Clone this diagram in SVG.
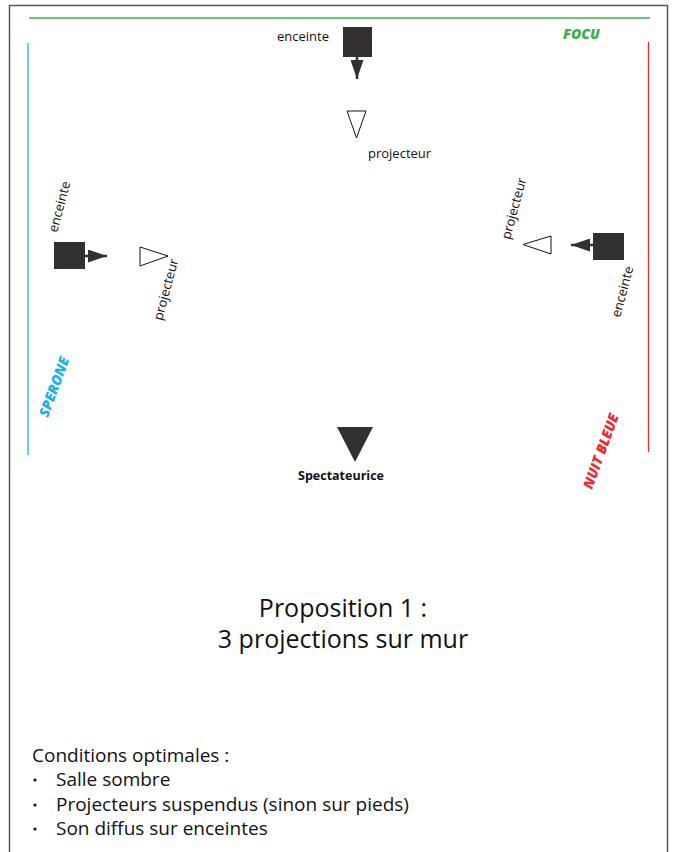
<svg xmlns="http://www.w3.org/2000/svg" width="675" height="852" viewBox="0 0 675 852">
  <style>
    .lbl { font-family: "Open Sans", "Noto Sans", sans-serif; font-size: 13px; fill: #111; }
    .brand { font-family: "Open Sans", "Noto Sans", sans-serif; font-size: 14px; font-weight: 800; font-style: italic; }
    .spk { fill: #333031; }
    .proj { fill: #fff; stroke: #111; stroke-width: 1; }
    .body { font-family: "Open Sans", "Noto Sans", sans-serif; font-size: 19px; fill: #111; }
    .title { font-family: "Open Sans", "Noto Sans", sans-serif; font-size: 25px; fill: #111; text-anchor: middle; }
  </style>
  <defs>
    <marker id="head" viewBox="0 0 19 13" refX="19" refY="6.5" markerWidth="19" markerHeight="13" markerUnits="userSpaceOnUse" orient="auto">
      <path d="M0,0 L19,6.5 L0,13 Z" fill="#333031"/>
    </marker>
  </defs>

  <rect width="675" height="852" fill="#fff"/>
  <!-- page frame -->
  <path d="M9.5,860 V5.5 H667.5 V860" fill="none" stroke="#555" stroke-width="1.5"/>

  <!-- walls -->
  <g id="walls">
    <line x1="29" y1="18" x2="650" y2="18" stroke="#3cb043" stroke-width="1.3"/>
    <line x1="28" y1="43" x2="28" y2="455" stroke="#1ab0ee" stroke-width="1.3"/>
    <line x1="648.5" y1="42" x2="648.5" y2="452" stroke="#ee2a35" stroke-width="1.3"/>
    <text class="brand" x="563" y="39" fill="#3cb043">FOCU</text>
    <text class="brand" transform="translate(48,418) rotate(-70)" fill="#1ab0ee">SPERONE</text>
    <text class="brand" transform="translate(592,490) rotate(-70)" fill="#ee2a35">NUIT BLEUE</text>
  </g>

  <!-- top speaker + projector -->
  <g id="speaker-top">
    <rect class="spk" x="343" y="27" width="29" height="30"/>
    <text class="lbl" x="277" y="41">enceinte</text>
  </g>
  <g id="projector-top">
    <polygon class="proj" points="347,111 366,111 356.5,138"/>
    <text class="lbl" x="368" y="158">projecteur</text>
  </g>

  <!-- left speaker + projector -->
  <g id="speaker-left">
    <rect class="spk" x="54" y="242" width="31" height="27"/>
    <text class="lbl" transform="translate(57,233) rotate(-75)">enceinte</text>
  </g>
  <g id="projector-left">
    <polygon class="proj" points="140,247 140,266 168,256"/>
    <text class="lbl" transform="translate(162,321) rotate(-75)">projecteur</text>
  </g>

  <!-- right speaker + projector -->
  <g id="speaker-right">
    <rect class="spk" x="593" y="233" width="31" height="27"/>
    <text class="lbl" transform="translate(620,318) rotate(-75)">enceinte</text>
  </g>
  <g id="projector-right">
    <polygon class="proj" points="523,244.5 551,236 551,254"/>
    <text class="lbl" transform="translate(510,240) rotate(-75)">projecteur</text>
  </g>

  <!-- audience -->
  <g id="spectateurice">
    <polygon fill="#333031" points="337,427 373,427 355,462"/>
    <text x="341" y="480" text-anchor="middle" font-family="'Open Sans', 'Noto Sans', sans-serif" font-size="12.5" font-weight="700" fill="#111">Spectateurice</text>
  </g>

  <!-- sound direction arrows -->
  <g id="connectors" stroke="#333031" stroke-width="2.5" fill="none">
    <line x1="357" y1="56" x2="357" y2="79" marker-end="url(#head)"/>
    <line x1="84" y1="256" x2="107" y2="256" marker-end="url(#head)"/>
    <line x1="594" y1="245" x2="571" y2="245" marker-end="url(#head)"/>
  </g>

  <!-- caption -->
  <g id="caption">
    <text class="title" x="343" y="617">Proposition 1 :</text>
    <text class="title" x="343" y="648">3 projections sur mur</text>
  </g>

  <g id="conditions">
    <text class="body" x="32" y="762">Conditions optimales :</text>
    <circle cx="35" cy="780" r="1.6" fill="#111"/>
    <circle cx="35" cy="805" r="1.6" fill="#111"/>
    <circle cx="35" cy="829" r="1.6" fill="#111"/>
    <text class="body" x="56" y="786">Salle sombre</text>
    <text class="body" x="56" y="811">Projecteurs suspendus (sinon sur pieds)</text>
    <text class="body" x="56" y="835">Son diffus sur enceintes</text>
  </g>
</svg>
